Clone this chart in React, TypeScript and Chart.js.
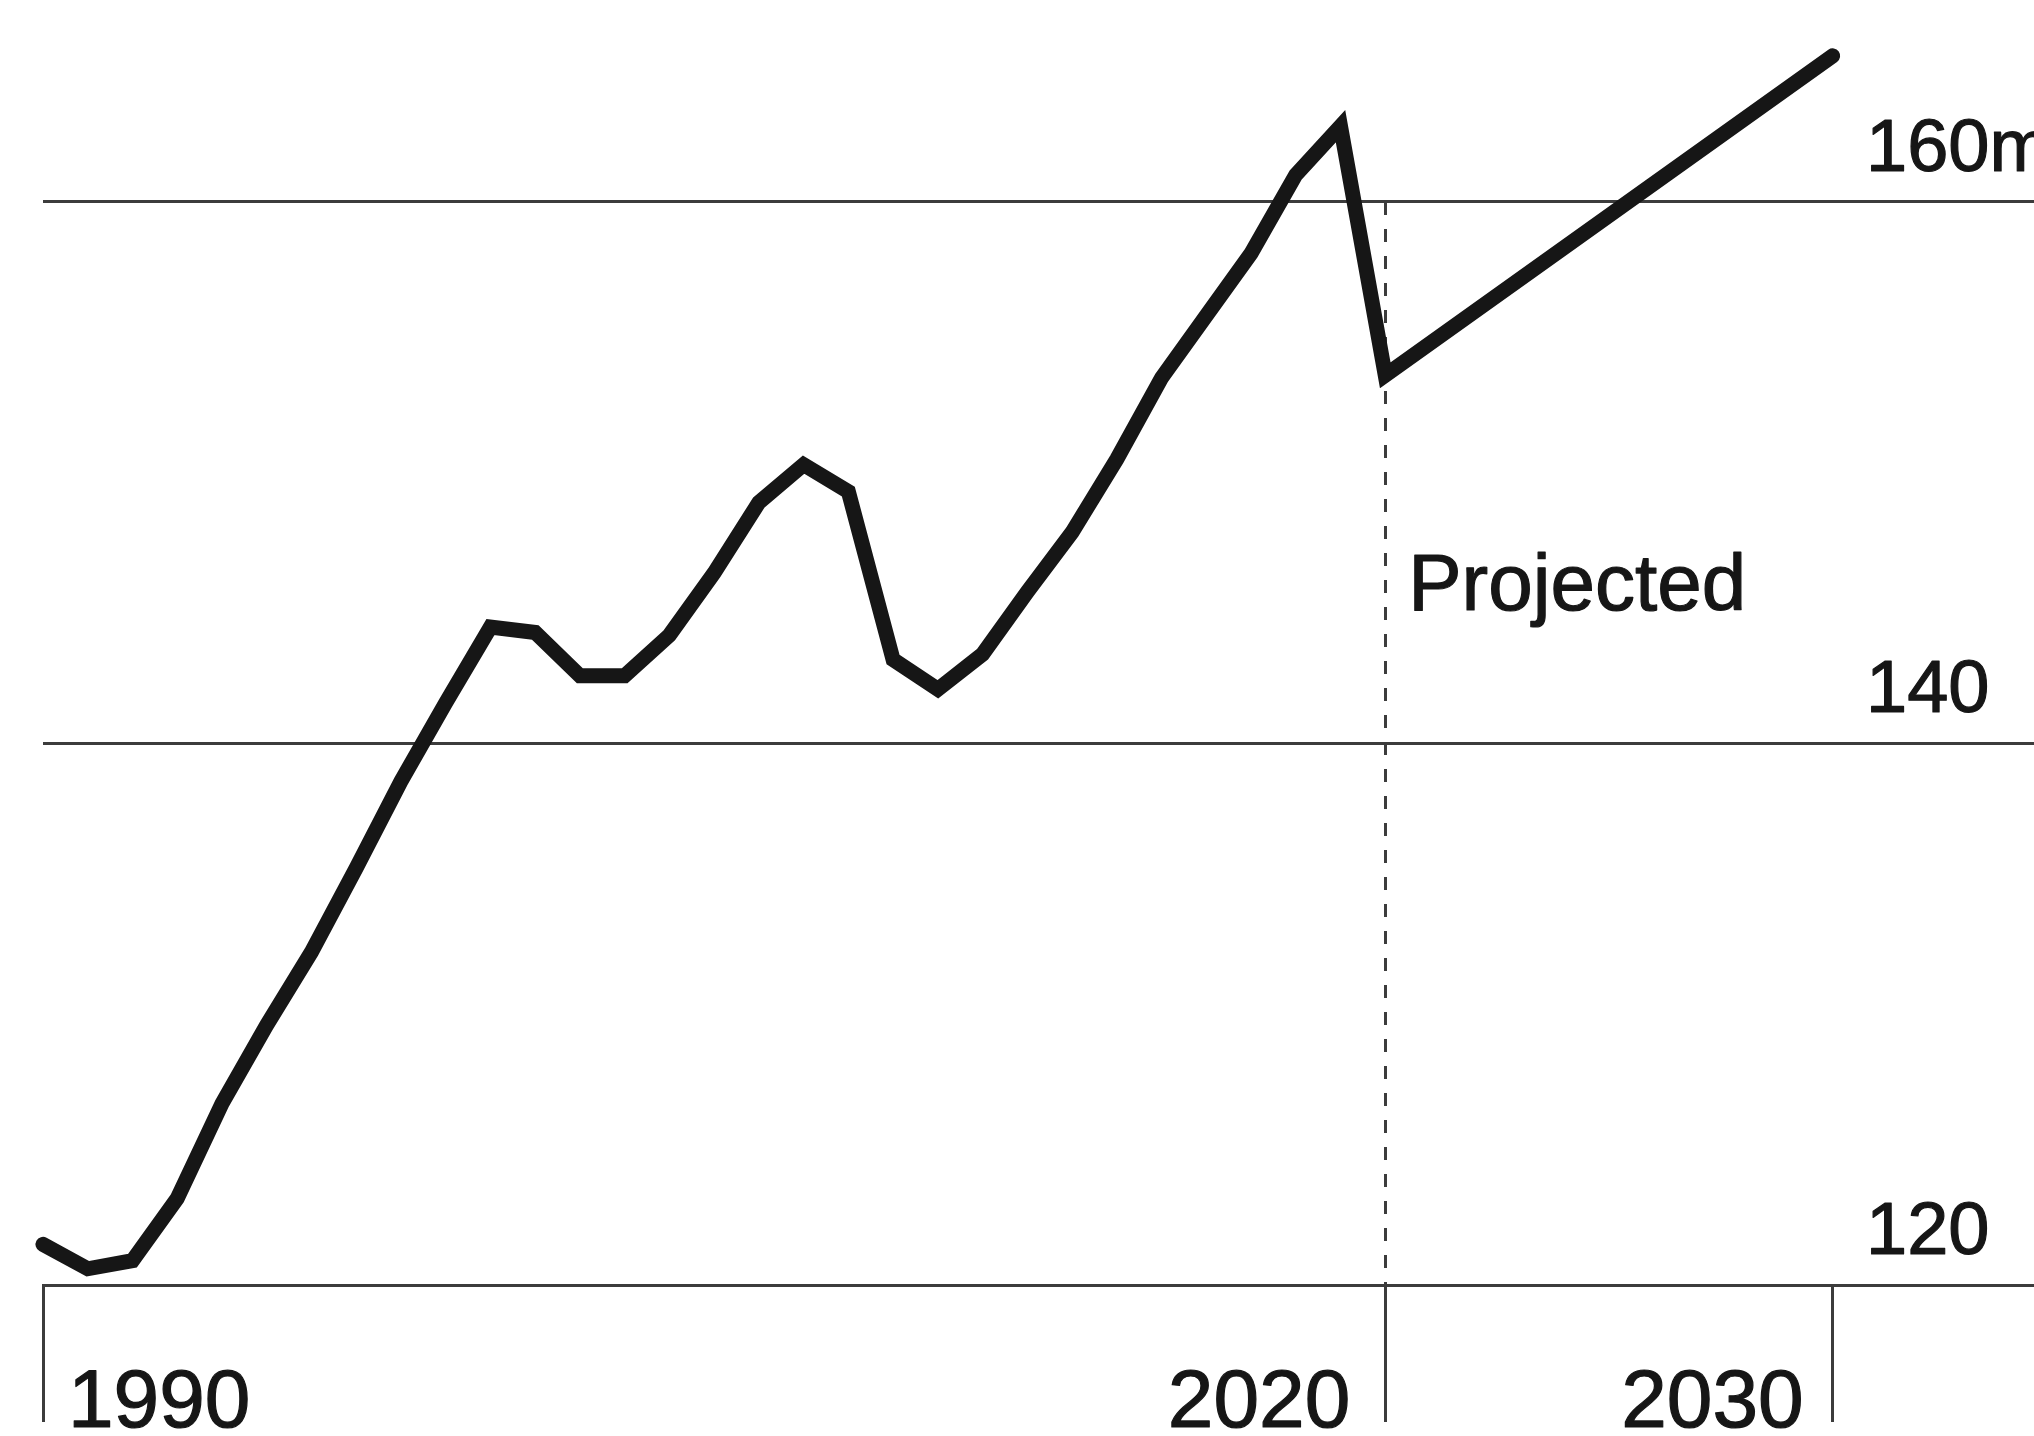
import React, { useEffect, useRef } from "react";
import { Chart, registerables } from "chart.js";

Chart.register(...registerables);

// Annual totals, millions (1990–2020 actual, 2030 projected)
const years = [
  1990, 1991, 1992, 1993, 1994, 1995, 1996, 1997, 1998, 1999,
  2000, 2001, 2002, 2003, 2004, 2005, 2006, 2007, 2008, 2009,
  2010, 2011, 2012, 2013, 2014, 2015, 2016, 2017, 2018, 2019,
  2020, 2030,
];
const millions = [
  121.5, 120.6, 120.9, 123.2, 126.7, 129.6, 132.3, 135.4, 138.6, 141.5,
  144.3, 144.1, 142.5, 142.5, 144.0, 146.3, 148.9, 150.3, 149.3, 143.1,
  142.0, 143.3, 145.6, 147.8, 150.5, 153.5, 155.8, 158.1, 161.0, 162.8,
  153.6, 165.4,
];

const xTickValues = [1990, 2020, 2030];
const xTickLabels = ["1990", "2020", "2030"];
const yTickValues = [120, 140, 160];
const yTickLabels = ["120", "140", "160m"];
const projectionStart = 2020;
const projectionLabel = "Projected";

const INK = "#161616";
const RULE = "#3c3c3c";
const FONT = '"Liberation Sans", Arial, Helvetica, sans-serif';

// filled text with a hairline stroke for a slightly heavier weight
function label(ctx: CanvasRenderingContext2D, text: string, x: number, y: number) {
  ctx.fillText(text, x, y);
  ctx.strokeText(text, x, y);
}

const annotations = {
  id: "annotations",
  beforeDatasetsDraw(chart: any) {
    const { ctx, scales } = chart;
    const x = scales.x;
    const y = scales.y;
    // dashed divider between actual and projected
    const px = Math.round(x.getPixelForValue(projectionStart)) + 0.5;
    ctx.save();
    ctx.strokeStyle = RULE;
    ctx.lineWidth = 3;
    ctx.setLineDash([13, 14]);
    ctx.beginPath();
    ctx.moveTo(px, y.getPixelForValue(160));
    ctx.lineTo(px, y.getPixelForValue(120));
    ctx.stroke();
    ctx.restore();
  },
  afterDraw(chart: any) {
    const { ctx, scales } = chart;
    const x = scales.x;
    const y = scales.y;
    ctx.save();
    ctx.fillStyle = INK;
    ctx.strokeStyle = INK;
    ctx.lineWidth = 1.2;
    ctx.lineJoin = "round";
    ctx.textBaseline = "alphabetic";

    // value labels sit above their rules, near the right edge
    ctx.font = `74px ${FONT}`;
    ctx.textAlign = "left";
    yTickValues.forEach((v, i) => {
      label(ctx, yTickLabels[i], 1866, y.getPixelForValue(v) - 31);
    });

    // year labels beside their tick marks
    ctx.font = `82px ${FONT}`;
    const base = y.getPixelForValue(120) + 142;
    xTickValues.forEach((v, i) => {
      const tx = x.getPixelForValue(v);
      if (i === 0) {
        ctx.textAlign = "left";
        label(ctx, xTickLabels[i], tx + 25, base);
      } else {
        ctx.textAlign = "right";
        label(ctx, xTickLabels[i], tx - (i === 1 ? 35 : 29), base);
      }
    });

    ctx.font = `80px ${FONT}`;
    ctx.textAlign = "left";
    label(
      ctx,
      projectionLabel,
      x.getPixelForValue(projectionStart) + 23,
      y.getPixelForValue(144.93)
    );
    ctx.restore();
  },
};

export default function App() {
  const ref = useRef<HTMLCanvasElement | null>(null);

  useEffect(() => {
    document.body.style.margin = "0";
    const canvas = ref.current;
    if (!canvas) return;
    const chart = new Chart(canvas, {
      type: "line",
      data: {
        datasets: [
          {
            label: "Millions",
            data: years.map((yr, i) => ({ x: yr, y: millions[i] })),
            borderColor: INK,
            borderWidth: 15,
            borderCapStyle: "round",
            borderJoinStyle: "miter",
            pointRadius: 0,
            tension: 0,
            fill: false,
            clip: false,
          } as any,
        ],
      },
      options: {
        responsive: false,
        animation: false,
        maintainAspectRatio: false,
        layout: { padding: { left: 43, right: 0, top: 0, bottom: 14 } },
        plugins: {
          legend: { display: false },
          tooltip: { enabled: false },
          title: { display: false },
        },
        scales: {
          x: {
            type: "linear",
            min: 1990,
            max: 2034.5,
            afterBuildTicks: (s: any) => {
              s.ticks = xTickValues.map((v) => ({ value: v }));
            },
            grid: {
              drawOnChartArea: false,
              drawTicks: true,
              tickLength: 137,
              color: RULE,
              lineWidth: 3,
            },
            border: { display: true, color: RULE, width: 3 },
            ticks: { display: false },
          },
          y: {
            type: "linear",
            position: "right",
            min: 120,
            max: 167.46,
            afterBuildTicks: (s: any) => {
              s.ticks = yTickValues.map((v) => ({ value: v }));
            },
            grid: {
              drawTicks: false,
              color: RULE,
              lineWidth: 3,
            },
            border: { display: false },
            ticks: { display: false },
          },
        },
      },
      plugins: [annotations],
    });
    return () => chart.destroy();
  }, []);

  return (
    <div style={{ width: 2034, height: 1436, background: "#ffffff", overflow: "hidden" }}>
      <canvas ref={ref} width={2034} height={1436} style={{ display: "block" }} />
    </div>
  );
}
